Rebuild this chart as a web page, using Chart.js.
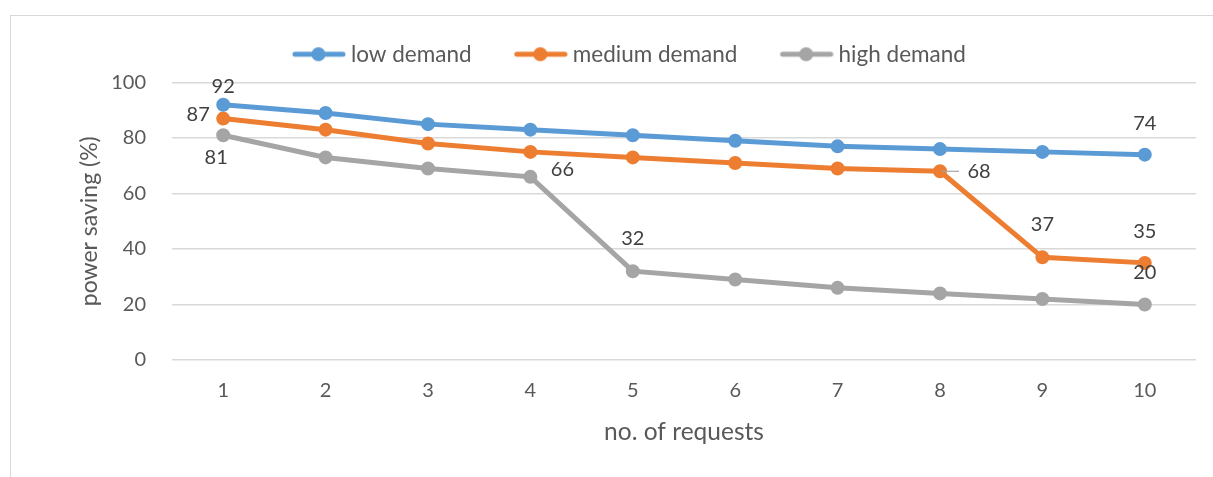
<!DOCTYPE html>
<html>
<head>
<meta charset="utf-8">
<script src="https://cdn.jsdelivr.net/npm/chart.js@4.4.0/dist/chart.umd.min.js"></script>
<style>
html, body { margin: 0; padding: 0; background: #fff; overflow: hidden; }
#frame { position: absolute; left: 10px; top: 15px; width: 1300px; height: 600px;
  border-left: 1px solid #d9d9d9; border-top: 1px solid #d9d9d9; }
#wrap { position: absolute; left: 0; top: 0; width: 1213px; height: 477px; }
</style>
</head>
<body>
<div id="frame"></div>
<div id="wrap"><canvas id="chart"></canvas></div>
<script>
// categories (x axis)
const requests = ["1", "2", "3", "4", "5", "6", "7", "8", "9", "10"];
// series values (power saving %)
const lowDemand = [92, 89, 85, 83, 81, 79, 77, 76, 75, 74];
const mediumDemand = [87, 83, 78, 75, 73, 71, 69, 68, 37, 35];
const highDemand = [81, 73, 69, 66, 32, 29, 26, 24, 22, 20];
const seriesNames = ["low demand", "medium demand", "high demand"];
// y axis ticks
const yTicks = [0, 20, 40, 60, 80, 100];

const colors = ["#5b9bd5", "#ed7d31", "#a5a5a5"];
const textColor = "#595959";
const fontFamily = "Lato, 'Open Sans', sans-serif";

// which points carry a value label, and where it sits relative to the point
const labelPlacement = [
  [{ i: 0, dx: 0, dy: -18 }, { i: 9, dx: 0, dy: -31 }],
  [{ i: 0, dx: -25, dy: -4 }, { i: 7, dx: 39, dy: 0, leader: true },
   { i: 8, dx: 0, dy: -33 }, { i: 9, dx: 0, dy: -31 }],
  [{ i: 0, dx: -7, dy: 22 }, { i: 3, dx: 32, dy: -7 },
   { i: 4, dx: 0, dy: -33 }, { i: 9, dx: 0, dy: -32 }],
];

//legend marker: blank gap, then a line with a dot in the middle
function legendMarker(color) {
  const c = document.createElement("canvas");
  c.width = 78; c.height = 16;
  const g = c.getContext("2d");
  g.strokeStyle = color;
  g.lineWidth = 5;
  g.lineCap = "round";
  g.beginPath(); g.moveTo(27, 8); g.lineTo(75, 8); g.stroke();
  g.fillStyle = color;
  g.beginPath(); g.arc(50.5, 8, 7, 0, Math.PI * 2); g.fill();
  return c;
}
const markers = colors.map(legendMarker);

//extra room between legend and plot
const legendGap = {
  id: "legendGap",
  afterInit(chart) {
    const legend = chart.legend;
    const fit = legend.fit;
    legend.fit = function () { fit.call(this); this.height += 7; };
  }
};

const valueLabels = {
  id: "valueLabels",
  afterDatasetsDraw(chart) {
    const ctx = chart.ctx;
    ctx.save();
    ctx.font = "20px " + fontFamily;
    ctx.fillStyle = "#404040";
    ctx.textAlign = "center";
    ctx.textBaseline = "middle";
    labelPlacement.forEach((list, d) => {
      const meta = chart.getDatasetMeta(d);
      const values = chart.data.datasets[d].data;
      list.forEach(p => {
        const pt = meta.data[p.i];
        if (p.leader) {
          ctx.strokeStyle = "#a5a5a5";
          ctx.lineWidth = 1.2;
          ctx.beginPath();
          ctx.moveTo(pt.x + 2, pt.y);
          ctx.lineTo(pt.x + 19, pt.y);
          ctx.stroke();
        }
        ctx.fillText(String(values[p.i]), pt.x + p.dx, pt.y + p.dy);
      });
    });
    ctx.restore();
  }
};

const seriesData = [lowDemand, mediumDemand, highDemand];

new Chart(document.getElementById("chart"), {
  type: "line",
  plugins: [legendGap, valueLabels],
  data: {
    labels: requests,
    datasets: seriesData.map((vals, k) => ({
      label: seriesNames[k],
      data: vals,
      borderColor: colors[k],
      backgroundColor: colors[k],
      borderWidth: 5,
      pointRadius: 6,
      pointBorderWidth: 2,
      pointHoverRadius: 6,
      pointStyle: "circle",
      tension: 0,
    })),
  },
  options: {
    responsive: true,
    maintainAspectRatio: false,
    animation: false,
    layout: { padding: { left: 44, right: 17, top: 18.5, bottom: 0 } },
    plugins: {
      tooltip: { enabled: false },
      legend: {
        position: "top",
        labels: {
          usePointStyle: true,
          pointStyleWidth: 65.5,
          boxHeight: 16,
          padding: 24.5,
          color: textColor,
          font: { family: fontFamily, size: 22.5 },
          generateLabels: (chart) =>
            Chart.defaults.plugins.legend.labels.generateLabels(chart).map((it, k) =>
              Object.assign(it, { pointStyle: markers[k] })),
        },
      },
    },
    scales: {
      x: {
        offset: true,
        afterFit: (axis) => { axis.height = 117; },
        grid: { display: false, drawTicks: false },
        border: { display: false },
        ticks: { color: textColor, font: { family: fontFamily, size: 20 }, padding: 19 },
        title: { display: true, text: "no. of requests", color: textColor,
          font: { family: fontFamily, size: 24.5 }, padding: { top: 0, bottom: 30 } },
      },
      y: {
        min: 0,
        max: 100,
        afterBuildTicks: (axis) => { axis.ticks = yTicks.map(v => ({ value: v })); },
        afterFit: (axis) => { axis.width = 128; },
        grid: { color: "#d9d9d9", lineWidth: 1.4, drawTicks: false },
        border: { display: false },
        ticks: { color: textColor, font: { family: fontFamily, size: 20 }, padding: 26 },
        title: { display: true, text: "power saving (%)", color: textColor,
          font: { family: fontFamily, size: 23 }, padding: { top: 32, bottom: 0 } },
      },
    },
  },
});
</script>
</body>
</html>
